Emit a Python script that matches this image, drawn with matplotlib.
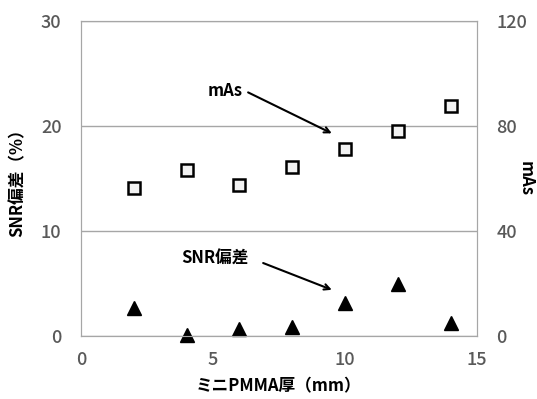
import matplotlib.pyplot as plt

plt.rcParams['font.family'] = ['Noto Sans CJK JP', 'DejaVu Sans']

thickness = [2, 4, 6, 8, 10, 12, 14]
snr_dev = [2.7, 0.1, 0.7, 0.85, 3.1, 5.0, 1.25]
mas = [56.4, 63.2, 57.5, 64.4, 71.2, 78.0, 87.6]

grey = '#595959'
fig = plt.figure(figsize=(5.37, 3.99), dpi=100)
ax = fig.add_axes([81/537, 1-336/399, 396/537, 315/399])
ax2 = ax.twinx()

ax.plot(thickness, snr_dev, '^', color='black', markersize=10, zorder=3, clip_on=False)
ax2.plot(thickness, mas, 's', markerfacecolor='#f2f2f2', markeredgecolor='black',
         markeredgewidth=1.8, markersize=9, zorder=3)

ax.set_xlim(0, 15)
ax.set_ylim(0, 30)
ax2.set_ylim(0, 120)
ax.set_xticks([0, 5, 10, 15])
ax.set_yticks([0, 10, 20, 30])
ax2.set_yticks([0, 40, 80, 120])
ax.yaxis.grid(True, color='#a6a6a6', linewidth=1)
ax.set_axisbelow(True)
for a in (ax, ax2):
    for s in a.spines.values():
        s.set_color('#a6a6a6')
    a.tick_params(length=0, labelsize=13, labelcolor=grey, pad=14)
ax.tick_params(axis='x', pad=11)
for lab in ax.get_xticklabels() + ax.get_yticklabels() + ax2.get_yticklabels():
    lab.set_fontweight('medium')

ax.set_xlabel('ミニPMMA厚（mm）', fontsize=12, fontweight='bold', labelpad=6)
ax.set_ylabel('SNR偏差（%）', fontsize=12, fontweight='bold', labelpad=10)
ax2.set_ylabel('mAs', fontsize=12, fontweight='bold', rotation=270, ha='center', va='center')
ax2.yaxis.set_label_coords(1.122, 0.5)

arrow = dict(arrowstyle='->', color='black', lw=1.5, shrinkA=0, shrinkB=0)
ax.text(5.45, 23.3, 'mAs', fontsize=12, fontweight='bold', ha='center', va='center')
ax.annotate('', xy=(9.5, 19.3), xytext=(6.33, 23.2), arrowprops=arrow)
ax.text(5.08, 7.4, 'SNR偏差', fontsize=12, fontweight='bold', ha='center', va='center')
ax.annotate('', xy=(9.5, 4.4), xytext=(6.9, 6.95), arrowprops=arrow)

fig.savefig('out.png', dpi=100)
